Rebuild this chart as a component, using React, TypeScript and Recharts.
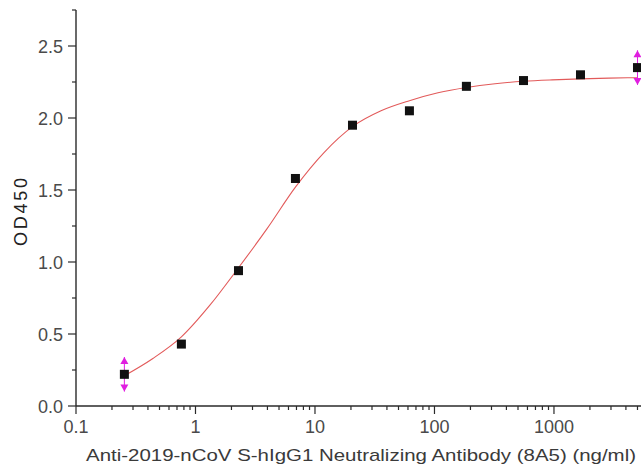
import React from "react";
import { ComposedChart, Scatter, Line, XAxis, YAxis, ErrorBar, Label } from "recharts";

// measured points (ng/ml vs OD450)
const conc = [0.254, 0.762, 2.29, 6.86, 20.6, 61.7, 185, 556, 1667, 5000];
const od = [0.22, 0.43, 0.94, 1.58, 1.95, 2.05, 2.22, 2.26, 2.3, 2.35];
const odErr = [0.12, 0, 0, 0, 0, 0, 0, 0, 0, 0.12];

// fitted curve
const fitX = [0.254, 0.44, 0.762, 1.32, 2.29, 3.96, 6.86, 11.9, 20.6, 35.7, 61.7, 107, 185, 321, 556, 963, 1667, 2887, 5000];
const fitY = [0.21, 0.33, 0.48, 0.7, 0.96, 1.23, 1.52, 1.76, 1.94, 2.05, 2.12, 2.175, 2.212, 2.238, 2.255, 2.265, 2.272, 2.277, 2.28];

const decades = [0.1, 1, 10, 100, 1000];
const decadeLabels = ["0.1", "1", "10", "100", "1000"];
const yMajor = [0, 0.5, 1, 1.5, 2, 2.5];
const yMinor = [0.25, 0.75, 1.25, 1.75, 2.25, 2.75];

const xTicks: number[] = [];
decades.forEach((d) => {
  for (let m = 1; m <= 9; m++) {
    const v = d * m;
    if (v <= 5000) xTicks.push(v);
  }
});
const yTicks = [...yMajor, ...yMinor].sort((a, b) => a - b);

const points = conc.map((c, i) => ({ x: c, y: od[i], err: odErr[i] }));
const upTips = points.filter((p) => p.err > 0).map((p) => ({ x: p.x, y: p.y + p.err }));
const downTips = points.filter((p) => p.err > 0).map((p) => ({ x: p.x, y: p.y - p.err }));
const fit = fitX.map((x, i) => ({ x, y: fitY[i] }));

const AXIS = "#2a2a2a";
const TICK_TEXT = "#4a4a4a";
const MAGENTA = "#e01ee0";
const FONT = "'Liberation Sans', Arial, sans-serif";

const XTick = (props: any) => {
  const { x, y, payload } = props;
  const idx = decades.findIndex((d) => Math.abs(d - payload.value) < d * 1e-6);
  const major = idx >= 0;
  return (
    <g>
      <line x1={x} y1={y} x2={x} y2={y + (major ? 8 : 4)} stroke={AXIS} strokeWidth={1.2} />
      {major && (
        <text x={x} y={y + 27} textAnchor="middle" fontSize={18} fill={TICK_TEXT} fontFamily={FONT}>
          {decadeLabels[idx]}
        </text>
      )}
    </g>
  );
};

const YTick = (props: any) => {
  const { x, y, payload } = props;
  const major = yMajor.includes(payload.value);
  return (
    <g>
      <line x1={x - (major ? 8 : 4)} y1={y} x2={x} y2={y} stroke={AXIS} strokeWidth={1.2} />
      {major && (
        <text x={x - 13} y={y + 6.5} textAnchor="end" fontSize={18} fill={TICK_TEXT} fontFamily={FONT}>
          {payload.value.toFixed(1)}
        </text>
      )}
    </g>
  );
};

const Square = (props: any) => {
  const { cx, cy } = props;
  return <rect x={cx - 4.5} y={cy - 4.5} width={9} height={9} fill="#111" />;
};

const UpArrow = (props: any) => {
  const { cx, cy } = props;
  return <polygon points={`${cx},${cy} ${cx - 4},${cy + 7} ${cx + 4},${cy + 7}`} fill={MAGENTA} />;
};

const DownArrow = (props: any) => {
  const { cx, cy } = props;
  return <polygon points={`${cx},${cy} ${cx - 4},${cy - 7} ${cx + 4},${cy - 7}`} fill={MAGENTA} />;
};

export default function App() {
  return (
    <div style={{ position: "absolute", left: 0, top: 0, width: 641, height: 466, background: "#fff" }}>
      <ComposedChart width={641} height={466} margin={{ top: 10, right: 0, bottom: 0, left: 0 }}>
        <XAxis
          dataKey="x"
          type="number"
          scale="log"
          domain={[0.1, 5350]}
          allowDataOverflow
          ticks={xTicks}
          interval={0}
          tick={<XTick />}
          tickLine={false}
          tickSize={0}
          tickMargin={0}
          height={60}
          axisLine={{ stroke: AXIS, strokeWidth: 1.4 }}
        >
          <Label
            content={({ viewBox }: any) => (
              <text
                x={viewBox.x + 285}
                y={viewBox.y + 55}
                textAnchor="middle"
                fontSize={17}
                fill="#3a3a3a"
                fontFamily={FONT}
                textLength={550}
                lengthAdjust="spacingAndGlyphs"
              >
                Anti-2019-nCoV S-hIgG1 Neutralizing Antibody (8A5) (ng/ml)
              </text>
            )}
          />
        </XAxis>
        <YAxis
          dataKey="y"
          type="number"
          domain={[0, 2.75]}
          allowDataOverflow
          ticks={yTicks}
          interval={0}
          tick={<YTick />}
          tickLine={false}
          tickSize={0}
          tickMargin={0}
          width={76}
          axisLine={{ stroke: AXIS, strokeWidth: 1.4 }}
        >
          <Label
            content={({ viewBox }: any) => (
              <text
                x={viewBox.x + 27}
                y={viewBox.y + 202}
                transform={`rotate(-90, ${viewBox.x + 27}, ${viewBox.y + 202})`}
                textAnchor="middle"
                fontSize={18}
                fill="#222"
                fontFamily={FONT}
                textLength={68}
              >
                OD450
              </text>
            )}
          />
        </YAxis>
        <Line
          data={fit}
          dataKey="y"
          type="monotone"
          stroke="#e25a5a"
          strokeWidth={1.1}
          dot={false}
          activeDot={false}
          isAnimationActive={false}
        />
        <Scatter data={upTips} dataKey="y" shape={<UpArrow />} isAnimationActive={false} />
        <Scatter data={downTips} dataKey="y" shape={<DownArrow />} isAnimationActive={false} />
        <Scatter data={points} dataKey="y" shape={<Square />} isAnimationActive={false}>
          <ErrorBar dataKey="err" direction="y" width={0} stroke={MAGENTA} strokeWidth={1} />
        </Scatter>
      </ComposedChart>
    </div>
  );
}
